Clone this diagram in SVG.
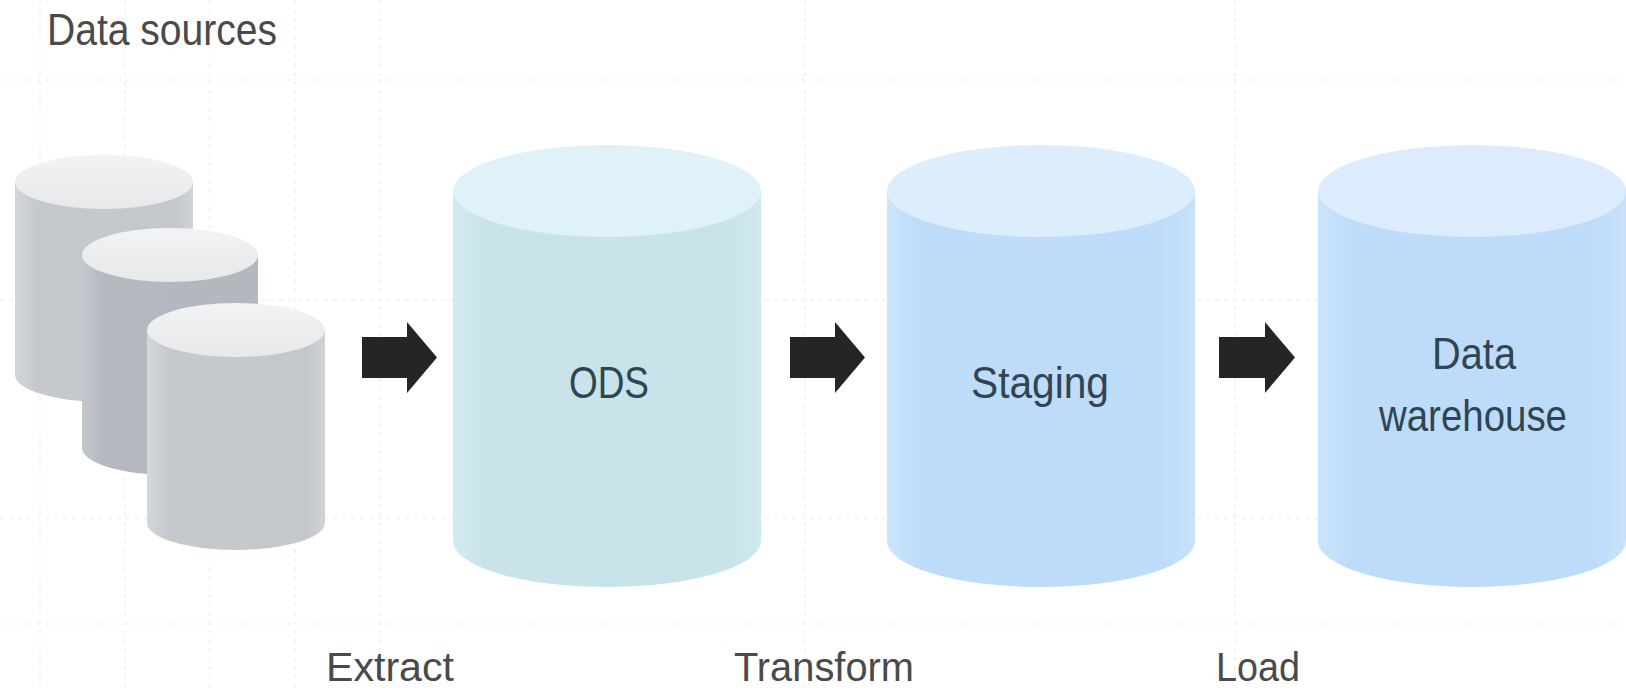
<svg xmlns="http://www.w3.org/2000/svg" width="1626" height="692" viewBox="0 0 1626 692">
  <defs>
    <style>
      .lbl { font-family: "Liberation Sans", Arial, sans-serif; font-size: 44px; fill: #4a4a4a; }
      .step { font-family: "Liberation Sans", Arial, sans-serif; font-size: 41px; fill: #4a4a4a; }
      .in { font-family: "Liberation Sans", Arial, sans-serif; font-size: 44px; fill: #2f4552; text-anchor: middle; }
      .grid { stroke: #f5f5f5; stroke-width: 2; stroke-dasharray: 4 5; fill: none; }
      .arrow { fill: #252525; }
    </style>
    <linearGradient id="grayBody" x1="0" y1="0" x2="1" y2="0">
      <stop offset="0" stop-color="#d3d6da"/>
      <stop offset="0.12" stop-color="#c5c9ce"/>
      <stop offset="0.9" stop-color="#c4c8cc"/>
      <stop offset="1" stop-color="#d0d3d7"/>
    </linearGradient>
    <linearGradient id="grayBody2" x1="0" y1="0" x2="1" y2="0">
      <stop offset="0" stop-color="#c4c8ce"/>
      <stop offset="0.12" stop-color="#b4b9c1"/>
      <stop offset="1" stop-color="#b3b8bf"/>
    </linearGradient>
    <linearGradient id="grayTop" x1="0" y1="0" x2="0" y2="1">
      <stop offset="0" stop-color="#f2f3f4"/>
      <stop offset="1" stop-color="#e6e8ea"/>
    </linearGradient>
    <linearGradient id="odsBody" x1="0" y1="0" x2="1" y2="0">
      <stop offset="0" stop-color="#d2ebf1"/>
      <stop offset="0.1" stop-color="#c8e3ea"/>
      <stop offset="0.9" stop-color="#c8e3ea"/>
      <stop offset="1" stop-color="#d0e9ef"/>
    </linearGradient>
    <linearGradient id="blueBody" x1="0" y1="0" x2="1" y2="0">
      <stop offset="0" stop-color="#cbe4fb"/>
      <stop offset="0.1" stop-color="#bedcf9"/>
      <stop offset="0.9" stop-color="#bedcf9"/>
      <stop offset="1" stop-color="#c9e2fa"/>
    </linearGradient>
  </defs>

  <rect x="0" y="0" width="1626" height="692" fill="#ffffff"/>

  <g id="grid">
    <line class="grid" x1="0" y1="80" x2="1626" y2="80"/>
    <line class="grid" x1="0" y1="300" x2="1626" y2="300"/>
    <line class="grid" x1="0" y1="518" x2="1626" y2="518"/>
    <line class="grid" x1="0" y1="624" x2="1626" y2="624"/>
    <line class="grid" x1="40" y1="0" x2="40" y2="692"/>
    <line class="grid" x1="125" y1="0" x2="125" y2="692"/>
    <line class="grid" x1="210" y1="0" x2="210" y2="692"/>
    <line class="grid" x1="295" y1="0" x2="295" y2="692"/>
    <line class="grid" x1="380" y1="0" x2="380" y2="692"/>
    <line class="grid" x1="805" y1="0" x2="805" y2="692"/>
    <line class="grid" x1="1235" y1="0" x2="1235" y2="692"/>
  </g>

  <text id="title" class="lbl" x="47" y="45" textLength="230" lengthAdjust="spacingAndGlyphs">Data sources</text>

  <g id="source1">
    <path d="M15,182 L15,375 A89,27 0 0 0 193,375 L193,182 Z" fill="url(#grayBody)"/>
    <ellipse cx="104" cy="182" rx="89" ry="27" fill="url(#grayTop)"/>
  </g>
  <g id="source2">
    <path d="M82,255 L82,448 A88,27 0 0 0 258,448 L258,255 Z" fill="url(#grayBody2)"/>
    <ellipse cx="170" cy="255" rx="88" ry="27" fill="url(#grayTop)"/>
  </g>
  <g id="source3">
    <path d="M147,330 L147,523 A89,27 0 0 0 325,523 L325,330 Z" fill="url(#grayBody)"/>
    <ellipse cx="236" cy="330" rx="89" ry="27" fill="url(#grayTop)"/>
  </g>

  <g id="ods">
    <path d="M453,191 L453,541 A154,46 0 0 0 761,541 L761,191 Z" fill="url(#odsBody)"/>
    <ellipse cx="607" cy="191" rx="154" ry="46" fill="#dff2f7"/>
    <text class="in" x="609" y="398" textLength="80" lengthAdjust="spacingAndGlyphs">ODS</text>
  </g>

  <g id="staging">
    <path d="M887,191 L887,541 A154,46 0 0 0 1195,541 L1195,191 Z" fill="url(#blueBody)"/>
    <ellipse cx="1041" cy="191" rx="154" ry="46" fill="#dcedfc"/>
    <text class="in" x="1040" y="398" textLength="138" lengthAdjust="spacingAndGlyphs">Staging</text>
  </g>

  <g id="warehouse">
    <path d="M1318,191 L1318,541 A154,46 0 0 0 1626,541 L1626,191 Z" fill="url(#blueBody)"/>
    <ellipse cx="1472" cy="191" rx="154" ry="46" fill="#dcecfc"/>
    <text class="in" x="1474" y="369" textLength="84" lengthAdjust="spacingAndGlyphs">Data</text>
    <text class="in" x="1473" y="431" textLength="188" lengthAdjust="spacingAndGlyphs">warehouse</text>
  </g>

  <g id="connectors">
    <path class="arrow" d="M362,337 L407,337 L407,322 L437,357.5 L407,393 L407,378 L362,378 Z"/>
    <path class="arrow" d="M790,337 L835,337 L835,322 L865,357.5 L835,393 L835,378 L790,378 Z"/>
    <path class="arrow" d="M1219,337 L1265,337 L1265,322 L1295,357.5 L1265,393 L1265,378 L1219,378 Z"/>
  </g>

  <g id="steps">
    <text class="step" x="326" y="681" textLength="128" lengthAdjust="spacingAndGlyphs">Extract</text>
    <text class="step" x="734" y="681" textLength="180" lengthAdjust="spacingAndGlyphs">Transform</text>
    <text class="step" x="1216" y="681" textLength="84" lengthAdjust="spacingAndGlyphs">Load</text>
  </g>
</svg>
